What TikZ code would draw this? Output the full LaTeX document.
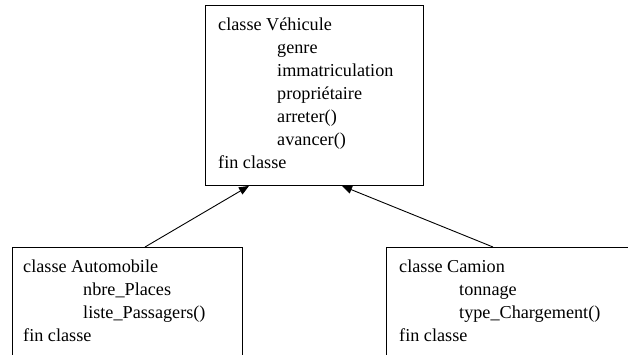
\documentclass[tikz,border=0pt]{standalone}
\usepackage{fontspec}
\setmainfont{Liberation Serif}
\usetikzlibrary{arrows.meta}

\tikzset{
  classbox/.style={draw=black, line width=0.9pt, rectangle, inner sep=0pt, anchor=north west},
  line/.style={anchor=base west, inner sep=0pt, font=\fontsize{18.2}{22}\selectfont},
  inherit/.style={draw=black, line width=0.9pt, -{Triangle[length=10pt,width=8pt]}},
}

\begin{document}
\begin{tikzpicture}[x=1pt, y=-1pt]
  \clip (0,0) rectangle (628,354);
  \useasboundingbox (0,0) rectangle (628,354);
  \fill[white] (0,0) rectangle (628,354);

  % base class
  \node[classbox, minimum width=218pt, minimum height=180pt] (veh) at (205,5) {};
  \node[line] (v0) at (218,30)  {classe Véhicule};
  \node[line] (v1) at (277,53)  {genre};
  \node[line] (v2) at (277,76)  {immatriculation};
  \node[line] (v3) at (277,99)  {propriétaire};
  \node[line] (v4) at (277,122) {arreter()};
  \node[line] (v5) at (277,145) {avancer()};
  \node[line] (v6) at (218,168) {fin classe};

  % subclass Automobile
  \node[classbox, minimum width=230pt, minimum height=140pt] (auto) at (12,247) {};
  \node[line] (a0) at (23,272) {classe Automobile};
  \node[line] (a1) at (83,295) {nbre\_Places};
  \node[line] (a2) at (83,318) {liste\_Passagers()};
  \node[line] (a3) at (23,341) {fin classe};

  % subclass Camion
  \node[classbox, minimum width=280pt, minimum height=140pt] (cam) at (386,247) {};
  \node[line] (c0) at (399,272) {classe Camion};
  \node[line] (c1) at (459,295) {tonnage};
  \node[line] (c2) at (459,318) {type\_Chargement()};
  \node[line] (c3) at (399,341) {fin classe};

  % inheritance links
  \draw[inherit] ([xshift=133pt]auto.north west) -- ([xshift=44pt]veh.south west);
  \draw[inherit] ([xshift=107pt]cam.north west) -- ([xshift=137pt]veh.south west);
\end{tikzpicture}
\end{document}
